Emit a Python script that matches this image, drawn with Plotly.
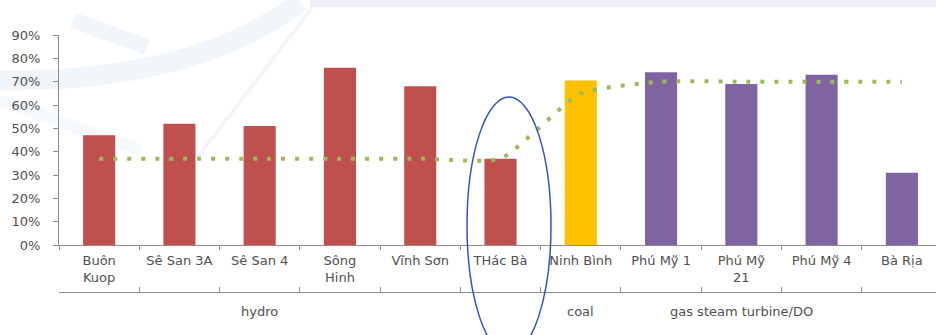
import plotly.graph_objects as go

categories = ["Buôn<br>Kuop", "Sê San 3A", "Sê San 4", "Sông<br>Hinh", "Vĩnh Sơn",
              "THác Bà", "Ninh Bình", "Phú Mỹ 1", "Phú Mỹ<br>21", "Phú Mỹ 4", "Bà Rịa"]
values = [47, 52, 51, 76, 68, 37, 70.5, 74, 69, 73, 31]
group_of = ["hydro", "hydro", "hydro", "hydro", "hydro", "",
            "coal", "gas steam turbine/DO", "gas steam turbine/DO", "gas steam turbine/DO", ""]
fuel = ["hydro", "hydro", "hydro", "hydro", "hydro", "hydro",
        "coal", "gas", "gas", "gas", "gas"]
trend = [37, 37, 37, 37, 37, 37, 65, 70, 70, 70, 70]
y_ticks = [0, 10, 20, 30, 40, 50, 60, 70, 80, 90]

fuel_colors = {"hydro": "#C0504D", "coal": "#FFC000", "gas": "#8064A2"}
bar_colors = [fuel_colors[f] for f in fuel]

FONT = "DejaVu Sans"
TXT = "#505050"
AX = "#8C8C8C"
FS = 13
n = len(categories)
xr = [-0.5, n - 0.5 - 0.075]

W, H = 936, 335
ML, MT = 59, 35
PW, PH = W - ML, H - MT


def px(x):
    return (x - ML) / PW


def py(y):
    return (H - y) / PH


fig = go.Figure()
fig.add_trace(go.Bar(x=categories, y=values, marker=dict(color=bar_colors, line=dict(width=0)),
                     width=0.4, showlegend=False, hoverinfo="skip"))
fig.add_trace(go.Scatter(x=categories, y=trend, mode="lines",
                         line=dict(color="#9BBB59", width=4, dash="4px,10px", shape="spline", smoothing=0.5),
                         showlegend=False, hoverinfo="skip"))
# dummy trace so that the lower category separator axis is drawn
fig.add_trace(go.Scatter(x=[0], y=[None], xaxis="x2", yaxis="y", mode="lines",
                         showlegend=False, hoverinfo="skip"))

# group labels
groups = []
for g in group_of:
    if g and g not in groups:
        groups.append(g)
annotations = []
for g in groups:
    idx = [i for i, gg in enumerate(group_of) if gg == g]
    annotations.append(dict(x=sum(idx) / len(idx), y=0.08, xref="x", yref="paper", text=g,
                            showarrow=False, yanchor="middle", xanchor="center",
                            font=dict(family=FONT, size=FS, color=TXT)))


def pth(points):
    s = "M %.4f %.4f" % (px(points[0][0]), py(points[0][1]))
    if len(points) == 3:
        s += " Q %.4f %.4f %.4f %.4f" % (px(points[1][0]), py(points[1][1]),
                                         px(points[2][0]), py(points[2][1]))
    else:
        for p in points[1:]:
            s += " L %.4f %.4f" % (px(p[0]), py(p[1]))
    return s


WM = "rgba(215,228,244,0.35)"
shapes = [
    # faint background watermark
    dict(type="rect", xref="paper", yref="paper", x0=px(310), x1=px(W + 5), y0=py(7), y1=py(-5),
         line=dict(width=0), fillcolor="rgba(228,224,242,0.55)", layer="below"),
    dict(type="path", xref="paper", yref="paper", path=pth([(-10, 80), (190, 85), (300, 2)]),
         line=dict(color=WM, width=20), layer="below"),
    dict(type="path", xref="paper", yref="paper", path=pth([(73, 20), (147, 47)]),
         line=dict(color=WM, width=16), layer="below"),
    dict(type="path", xref="paper", yref="paper", path=pth([(0, 100), (140, 150)]),
         line=dict(color="rgba(215,228,244,0.25)", width=12), layer="below"),
    dict(type="path", xref="paper", yref="paper", path=pth([(312, 8), (197, 158)]),
         line=dict(color=WM, width=4), layer="below"),
    # ellipse highlighting THác Bà
    dict(type="circle", xref="paper", yref="paper",
         x0=px(467), x1=px(551), y0=py(354), y1=py(97),
         line=dict(color="#2F55C8", width=1.5), fillcolor="rgba(0,0,0,0)"),
]

fig.update_layout(
    width=W, height=H,
    margin=dict(l=ML, r=0, t=MT, b=0, autoexpand=False),
    paper_bgcolor="white", plot_bgcolor="rgba(0,0,0,0)",
    font=dict(family=FONT, size=FS, color=TXT),
    xaxis=dict(type="category", range=xr, tickson="boundaries", ticks="outside", ticklen=4,
               tickcolor=AX, showline=True, linecolor=AX, linewidth=1, showgrid=False,
               automargin=False,
               ticklabelstandoff=3, tickfont=dict(family=FONT, size=FS, color=TXT)),
    xaxis2=dict(range=xr, overlaying="x", anchor="free", position=43 / 300, side="bottom",
                showline=True, linecolor=AX, linewidth=1, ticks="inside", ticklen=5, tickcolor=AX,
                tickmode="array", tickvals=[i - 0.5 for i in range(n + 1)], automargin=False,
                showticklabels=False, showgrid=False, zeroline=False),
    yaxis=dict(range=[0, 90], domain=[0.3, 1], tickmode="array", tickvals=y_ticks,
               ticktext=[f"{v}%" for v in y_ticks], automargin=False,
               ticks="outside", ticklen=5, tickcolor=AX, showline=True, linecolor=AX, linewidth=1,
               showgrid=False, zeroline=False, ticklabelstandoff=10,
               tickfont=dict(family=FONT, size=FS, color=TXT)),
    annotations=annotations,
    shapes=shapes,
)

fig.write_html("out.html")
